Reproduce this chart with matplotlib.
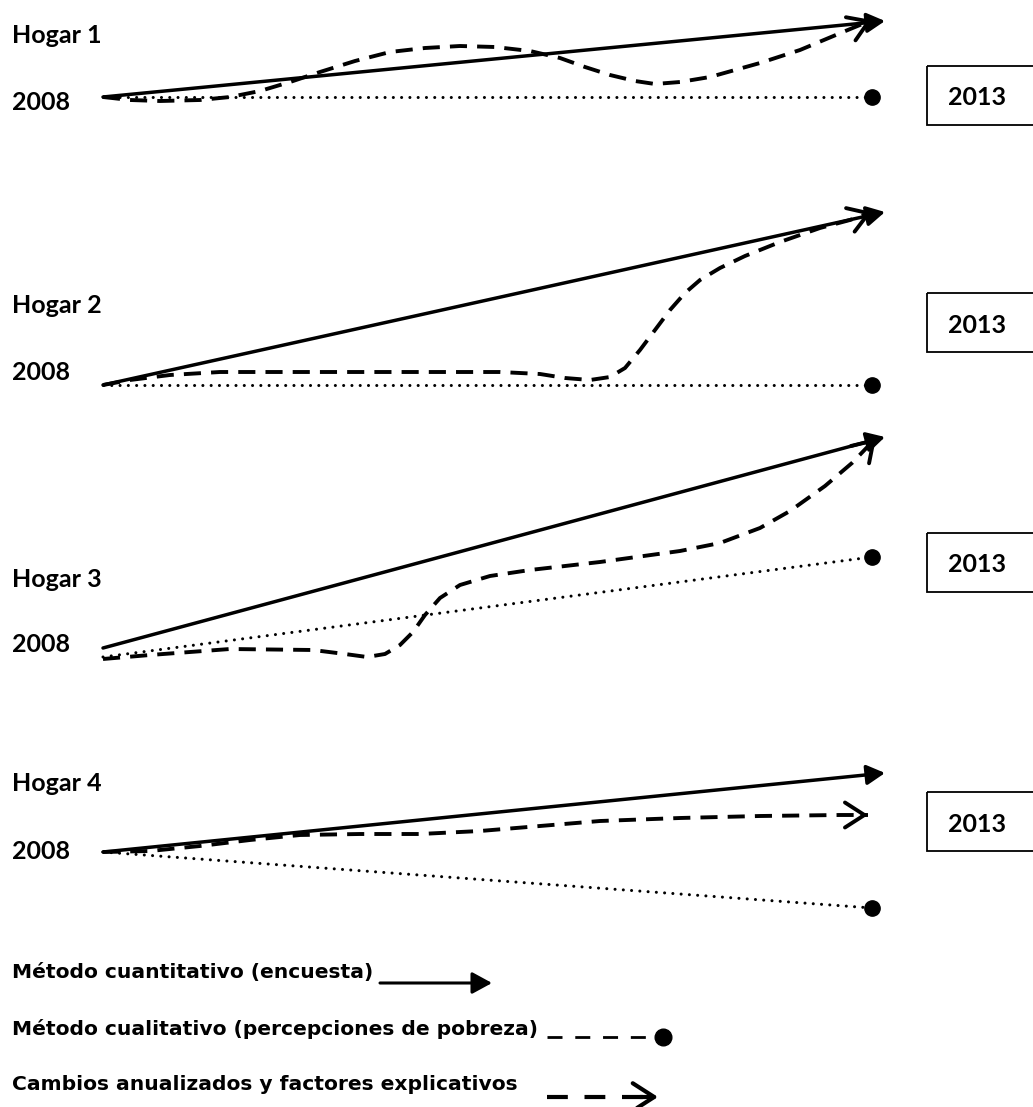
import matplotlib
matplotlib.use("Agg")
import matplotlib.pyplot as plt
from matplotlib.patches import Rectangle

# diagram coordinates (pixel units, y grows downward)
hogar_labels = ["Hogar 1", "Hogar 2", "Hogar 3", "Hogar 4"]
label_y = [43, 313, 587, 791]
start_y = [110, 380, 652, 859]
box_top = [66, 293, 533, 792]
box_text_y = [105, 333, 572, 832]

# solid arrow (quantitative): start and tip
solid_start = [(103, 97), (103, 385), (103, 648), (103, 852)]
solid_tip = [(885, 21), (885, 212), (885, 437), (885, 773)]

# dotted line (qualitative): start and end dot
dot_start = [(103, 97), (103, 385), (103, 657), (103, 852)]
dot_end = [(872, 97), (872, 385), (872, 557), (872, 908)]

# dashed curves (annualised changes)
dash_x = [
    [103, 130, 160, 200, 230, 260, 290, 320, 355, 390, 425, 460, 495, 530, 560,
     585, 610, 635, 655, 680, 710, 760, 800, 843, 872],
    [103, 130, 170, 220, 300, 400, 500, 540, 565, 590, 610, 625, 640, 655, 670,
     685, 700, 720, 745, 780, 820, 850, 872],
    [103, 150, 230, 313, 345, 367, 385, 400, 413, 425, 440, 460, 490, 530, 600,
     680, 720, 760, 790, 825, 852, 876],
    [103, 150, 200, 250, 300, 360, 420, 480, 540, 600, 680, 760, 840, 868],
]
dash_y = [
    [97, 100, 101, 100, 97, 91, 82, 72, 61, 52, 48, 46, 47, 51, 58,
     67, 75, 81, 84, 82, 77, 63, 50, 32, 20],
    [385, 380, 375, 372, 372, 372, 372, 374, 378, 380, 377, 368, 350, 330, 310,
     293, 280, 268, 256, 242, 228, 220, 212],
    [659, 655, 649, 650, 654, 657, 654, 645, 632, 615, 598, 585, 576, 570, 562,
     551, 543, 528, 511, 486, 463, 438],
    [852, 851, 846, 840, 835, 834, 834, 831, 826, 821, 818, 816, 815, 815],
]

legend_texts = ["Método cuantitativo (encuesta)",
                "Método cualitativo (percepciones de pobreza)",
                "Cambios anualizados y factores explicativos"]
legend_y = [978, 1035, 1090]

fig = plt.figure(figsize=(10.33, 11.07), dpi=100)
ax = fig.add_axes([0, 0, 1, 1])
ax.set_xlim(0, 1033)
ax.set_ylim(1107, 0)
ax.axis("off")

label_font = dict(family="Lato", weight="bold", fontsize=18)
legend_font = dict(family="DejaVu Sans", weight="bold", fontsize=14.6)


def open_head(ax, x0, y0, x1, y1, lw=2.8, size=20):
    ax.annotate("", xy=(x1, y1), xytext=(x0, y0),
                arrowprops=dict(arrowstyle="->, head_length=0.7, head_width=0.45",
                                lw=lw, color="black", mutation_scale=size,
                                shrinkA=0, shrinkB=0))


def filled_head(ax, x0, y0, x1, y1, lw=2.5, size=20):
    ax.annotate("", xy=(x1, y1), xytext=(x0, y0),
                arrowprops=dict(arrowstyle="-|>, head_length=0.55, head_width=0.3",
                                lw=lw, color="black", mutation_scale=size,
                                shrinkA=0, shrinkB=0))


for i in range(4):
    ax.text(12, label_y[i], hogar_labels[i], va="baseline", ha="left", **label_font)
    ax.text(12, start_y[i], "2008", va="baseline", ha="left", **label_font)

    # 2013 box, cut by the right edge
    ax.add_patch(Rectangle((927, box_top[i]), 130, 59, fill=False, lw=1.3,
                           edgecolor="black", clip_on=True))
    ax.text(948, box_text_y[i], "2013", va="baseline", ha="left", **label_font)

    # dotted line with end dot
    (dx0, dy0), (dx1, dy1) = dot_start[i], dot_end[i]
    ax.plot([dx0, dx1], [dy0, dy1], color="black", lw=2.2, ls=(0, (0.01, 2.7)),
            dash_capstyle="round")
    ax.plot([dx1], [dy1], "o", color="black", ms=11)

    # dashed curve with open arrow head
    xs, ys = dash_x[i], dash_y[i]
    ax.plot(xs, ys, color="black", lw=2.8, ls=(0, (4.4, 2.6)))
    open_head(ax, xs[-2] + (xs[-1] - xs[-2]) * 0.8, ys[-2] + (ys[-1] - ys[-2]) * 0.8,
              xs[-1], ys[-1])

    # solid arrow
    (sx0, sy0), (sx1, sy1) = solid_start[i], solid_tip[i]
    filled_head(ax, sx0, sy0, sx1, sy1)

# legend
for t, y in zip(legend_texts, legend_y):
    ax.text(12, y, t, va="baseline", ha="left", **legend_font)

filled_head(ax, 380, 983, 492, 983, lw=2.2, size=22)
ax.plot([547, 650], [1037, 1037], color="black", lw=2.0, ls=(0, (5.4, 4.6)))
ax.plot([663], [1037], "o", color="black", ms=12)
ax.plot([547, 655], [1097, 1097], color="black", lw=3.0, ls=(0, (5, 4)))
open_head(ax, 640, 1097, 658, 1097, lw=3.0, size=22)

fig.savefig("out.png", dpi=100)
